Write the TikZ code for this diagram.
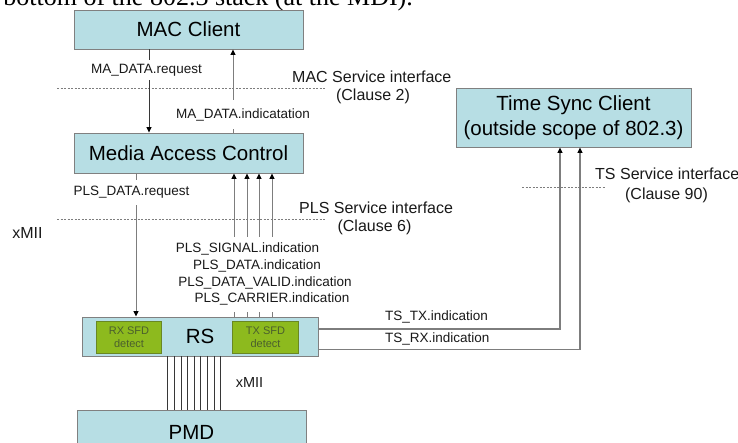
\documentclass[tikz,border=0pt]{standalone}
\usepackage{fontspec}
\setmainfont{Liberation Sans}
\newfontfamily\captionserif{Liberation Serif}
\usetikzlibrary{arrows.meta}
\definecolor{boxfill}{RGB}{183,222,228}
\definecolor{boxline}{RGB}{128,128,128}
\definecolor{sfdfill}{RGB}{141,186,30}
\definecolor{sfdline}{RGB}{105,135,35}
\definecolor{sfdtext}{RGB}{75,95,45}
\definecolor{wire}{RGB}{125,125,125}
\definecolor{wiredark}{RGB}{55,55,55}
\definecolor{labeltext}{RGB}{25,25,25}
\begin{document}
\begin{tikzpicture}[x=1pt,y=-1pt,
  layer/.style={draw=boxline, line width=0.9pt, fill=boxfill, inner sep=0pt,
    align=center, font=\fontsize{20.5}{25}\selectfont},
  sfd/.style={draw=sfdline, line width=0.8pt, fill=sfdfill, inner sep=0pt,
    minimum width=65.5pt, minimum height=32pt, text=sfdtext, align=center,
    font=\fontsize{11}{13}\selectfont},
  sig/.style={font=\fontsize{13.5}{16}\selectfont, inner sep=0pt, text=labeltext},
  gapsig/.style={sig, fill=white, inner xsep=1pt},
  iface/.style={font=\fontsize{16}{19}\selectfont, inner sep=0pt, text=labeltext},
  arr/.style={-{Triangle[length=5.5pt,width=5pt,color=black]}},
  wireline/.style={draw=wire, line width=1pt},
  service/.style={draw=wire, line width=0.8pt, dash pattern=on 2pt off 1.5pt},
]
% canvas
\fill[white, use as bounding box] (0,0) rectangle (738,443);
\clip (0,0) rectangle (738,443);

% running text above the figure
\node[inner sep=0pt, anchor=base east,
  font=\captionserif\fontsize{26}{30}\selectfont] (heading) at (413,6)
  {bottom of the 802.3 stack (at the MDI).};

% layers
\node[layer, minimum width=229pt, minimum height=39pt] (client) at (188.5,29.5) {MAC Client};
\node[layer, minimum width=229pt, minimum height=40pt] (mac) at (188.5,153) {Media Access Control};
\node[layer, minimum width=236pt, minimum height=39pt] (rs) at (200,336.5) {RS};
\node[sfd] (rx) at (129,337) {RX SFD\\detect};
\node[sfd] (tx) at (265.5,337) {TX SFD\\detect};
\node[layer, minimum width=229pt, minimum height=44pt] (pmd) at (191.5,432) {PMD};
\node[layer, minimum width=235pt, minimum height=59pt] (tsc) at (573.5,117.5)
  {Time Sync Client\\(outside scope of 802.3)};

% service interface boundaries
\draw[service] (57,88) -- (325,88);
\draw[service] (57,219) -- (325,219);
\draw[service] (522,187) -- (605,187);

% MAC service primitives
\draw[wireline, draw=wiredark, line width=0.8pt, arr]
  ([xshift=-39.5pt]client.south) -- ([xshift=-39.5pt]mac.north);
\draw[wireline, arr] ([xshift=44.5pt]mac.north) -- ([xshift=44.5pt]client.south);

% PLS service primitives
\draw[wireline, arr] ([xshift=-52.5pt]mac.south) -- ([xshift=-52.5pt]mac.south |- rs.north);
\foreach \x [count=\i] in {234,247,259,272} {
  \coordinate (up\i) at (\x,237);
  \coordinate (stub\i) at (\x,312);
  \draw[wireline, arr] (up\i) -- (up\i |- mac.south);
  \draw[wireline] (stub\i |- rs.north) -- (stub\i);
}

% xMII bundle between RS and PMD
\foreach \k in {0,...,8} {
  \pgfmathsetmacro{\dx}{-32.3+6.6*\k}
  \draw[draw=wiredark, line width=0.6pt]
    ([xshift=\dx pt]rs.south) -- ([xshift=\dx pt]rs.south |- pmd.north);
}

% time sync indications
\draw[wireline, line width=1.1pt, arr] ([yshift=7.5pt]rs.east) -| ([xshift=-13.5pt]tsc.south);
\draw[wireline, line width=1.1pt, arr] ([yshift=-13pt]rs.east) -| ([xshift=6.5pt]tsc.south);

% primitive labels
\node[gapsig, minimum height=20pt] (mareq) at (146.5,70) {MA\_DATA.request};
\node[gapsig, minimum height=29pt] (maind) at (243,114.5) {MA\_DATA.indicatation};
\node[gapsig, minimum height=25pt] (plsreq) at (131.5,192.5) {PLS\_DATA.request};
\node[sig] (plssig) at (247.5,249) {PLS\_SIGNAL.indication};
\node[sig] (plsdat) at (257,266) {PLS\_DATA.indication};
\node[sig] (plsval) at (265,283) {PLS\_DATA\_VALID.indication};
\node[sig] (plscar) at (272,299) {PLS\_CARRIER.indication};
\node[sig, anchor=west] (tstx) at (385,317) {TS\_TX.indication};
\node[sig, anchor=west] (tsrx) at (385,339) {TS\_RX.indication};

% interface labels
\node[iface, anchor=west] (macsi) at (292,77) {MAC Service interface};
\node[iface] (macsc) at (373,96) {(Clause 2)};
\node[iface, anchor=west] (plssi) at (299,208) {PLS Service interface};
\node[iface] (plssc) at (374.5,227) {(Clause 6)};
\node[iface, anchor=west] (tssi) at (595,174) {TS Service interface};
\node[iface] (tssc) at (666.5,195) {(Clause 90)};
\node[iface] (xmiiup) at (27.5,233) {xMII};
\node[iface, font=\fontsize{14.5}{17}\selectfont] (xmiilow) at (249.5,383) {xMII};
\end{tikzpicture}
\end{document}
